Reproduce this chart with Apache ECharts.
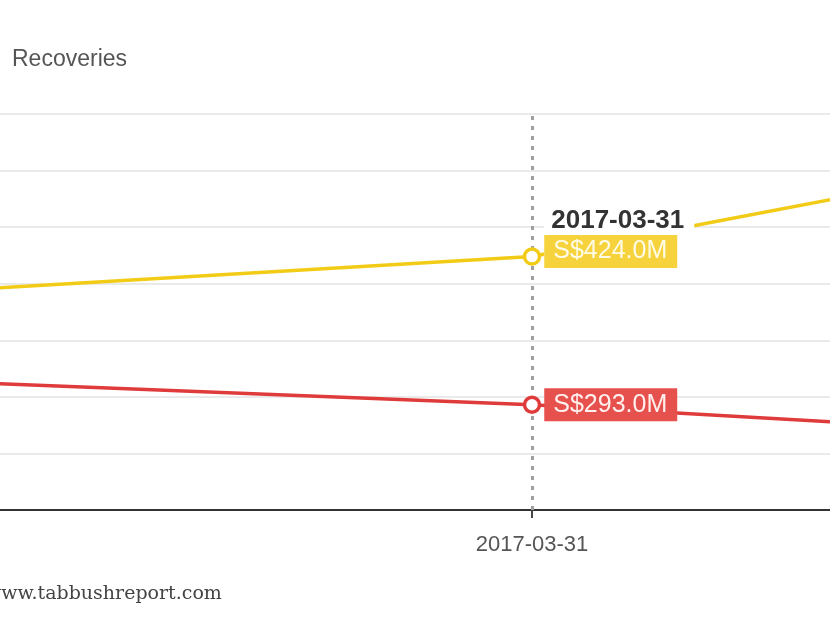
<!DOCTYPE html>
<html>
<head>
<meta charset="utf-8">
<style>
  html, body { margin: 0; padding: 0; background: #ffffff; }
  #chart { width: 830px; height: 622px; }
</style>
<script src="https://cdn.jsdelivr.net/npm/echarts@6/dist/echarts.min.js"></script>
</head>
<body>
<div id="chart"></div>
<script>
// ---- data ----
const categories = ['2016-12-31', '2017-03-31', '2017-06-30'];
const totalValues = [393, 424, 525];       // yellow series (S$ millions)
const recoveryValues = [314, 293, 263];    // red series (S$ millions)
const highlightDate = '2017-03-31';
const yTicks = [200, 250, 300, 350, 400, 450, 500, 550];
const legendNames = ['Recoveries'];
const watermark = 'www.tabbushreport.com';

const SANS = '"Liberation Sans", Arial, sans-serif';
const hi = categories.indexOf(highlightDate);
const fmtMoney = v => 'S$' + Number(v).toFixed(1) + 'M';

function buildData(values, labelCfg) {
  return values.map((v, i) => {
    if (i !== hi) return { value: v, symbol: 'none' };
    return { value: v, symbol: 'circle', label: labelCfg };
  });
}

const yellowLabel = {
  show: true,
  position: 'right',
  distance: 3,
  offset: [0, -22],
  backgroundColor: '#ffffff',
  padding: [4, 10, 0, 0],
  formatter: p => '{d|' + p.name + '}\n{v|' + fmtMoney(p.value) + '}',
  rich: {
    d: { fontFamily: SANS, fontSize: 26, fontWeight: 'bold', color: '#333333',
         lineHeight: 30, padding: [0, 0, 6, 7] },
    v: { fontFamily: SANS, fontSize: 25, color: '#fffbe6', backgroundColor: '#f6d33c',
         lineHeight: 26, padding: [4, 10, 4, 9] }
  }
};
const redLabel = {
  show: true,
  position: 'right',
  distance: 3,
  formatter: p => '{v|' + fmtMoney(p.value) + '}',
  rich: {
    v: { fontFamily: SANS, fontSize: 25, color: '#fff0ee', backgroundColor: '#e6514e',
         lineHeight: 26, padding: [4, 10, 4, 9] }
  }
};

const chart = echarts.init(document.getElementById('chart'), null, { renderer: 'canvas' });
chart.setOption({
  animation: false,
  backgroundColor: '#ffffff',
  legend: {
    data: legendNames,
    left: 0,
    top: 43,
    itemWidth: 1,
    itemHeight: 1,
    itemStyle: { opacity: 0 },
    lineStyle: { opacity: 0 },
    textStyle: { fontFamily: SANS, fontSize: 23, color: '#555555' }
  },
  grid: { left: -68, right: -302, top: 114, bottom: 112, containLabel: false, outerBoundsMode: 'none' },
  xAxis: {
    type: 'category',
    data: categories,
    boundaryGap: false,
    axisLine: { lineStyle: { color: '#333333', width: 2 } },
    axisTick: { show: true, length: 8, alignWithLabel: true, lineStyle: { color: '#444444', width: 2 } },
    axisLabel: { margin: 24, fontFamily: SANS, fontSize: 22, color: '#555555' },
    splitLine: { show: false }
  },
  yAxis: {
    type: 'value',
    min: yTicks[0],
    max: yTicks[yTicks.length - 1],
    interval: yTicks[1] - yTicks[0],
    axisLine: { show: false },
    axisTick: { show: false },
    axisLabel: { show: false },
    splitLine: { lineStyle: { color: '#e3e3e3', width: 1.5 } }
  },
  series: [
    {
      name: 'pointer',
      type: 'line',
      data: [],
      z: 1,
      silent: true,
      markLine: {
        z: 1,
        silent: true,
        symbol: 'none',
        label: { show: false },
        lineStyle: { color: '#a0a0a0', type: [4, 6], width: 3 },
        data: [{ xAxis: highlightDate }]
      }
    },
    {
      name: 'Total',
      type: 'line',
      data: buildData(totalValues, yellowLabel),
      symbolSize: 15,
      itemStyle: { color: '#ffffff', borderColor: '#f2cb16', borderWidth: 3.5 },
      lineStyle: { color: '#f2cb16', width: 3.5 },
      z: 3
    },
    {
      name: 'Recoveries',
      type: 'line',
      data: buildData(recoveryValues, redLabel),
      symbolSize: 15,
      itemStyle: { color: '#ffffff', borderColor: '#e03b3b', borderWidth: 3.5 },
      lineStyle: { color: '#e03b3b', width: 3.5 },
      z: 3
    }
  ],
  graphic: [
    {
      type: 'text',
      left: -15,
      top: 585,
      style: { text: watermark, font: '19px "DejaVu Serif", serif', fill: '#444444' }
    }
  ]
});
</script>
</body>
</html>
